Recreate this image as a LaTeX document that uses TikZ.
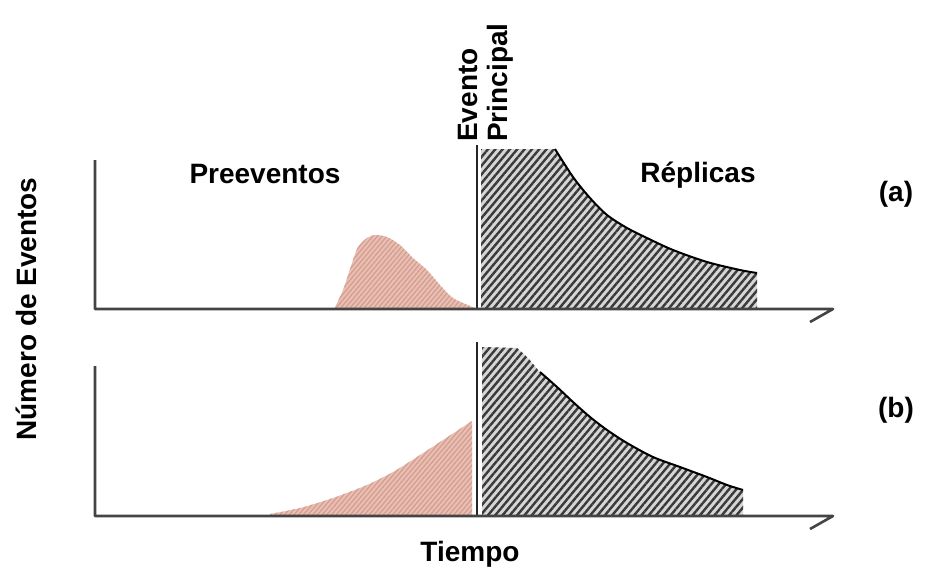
\documentclass[tikz,border=0pt]{standalone}
\usepackage{fontspec}
\setmainfont{Liberation Sans}
\usetikzlibrary{patterns.meta}

\definecolor{axisGray}{HTML}{444444}
\definecolor{shockBg}{HTML}{D6D6D6}
\definecolor{shockLine}{HTML}{3A3A3A}
\definecolor{foreFill}{HTML}{E9BFB4}
\definecolor{foreLine}{HTML}{D49C8E}

\begin{document}
\begin{tikzpicture}[x=1pt, y=-1pt,
	labelText/.style={font=\fontsize{28}{30}\selectfont\bfseries, inner sep=0pt},
	axisLine/.style={draw=axisGray, line width=2.6pt, line join=round},
	mainLine/.style={draw=black!85, line width=2.4pt},
	decayLine/.style={draw=black, line width=2pt},
	shockHatch/.style={preaction={fill=shockBg}, pattern={Lines[angle=50,distance=5.6pt,line width=2.4pt]}, pattern color=shockLine},
	foreHatch/.style={preaction={fill=foreFill}, pattern={Lines[angle=50,distance=3.6pt,line width=1.2pt]}, pattern color=foreLine}]
	\useasboundingbox (0,0) rectangle (925,574);

	\newcommand\drawAxes[2]{\draw[axisLine] (95,#1) -- (95,#2) -- (833,#2) -- (810,#2 + 13);}

	% (a)
	\begin{scope}
		\path[foreHatch] (335,309) -- plot[smooth] coordinates {(335,307) (343,290) (352,263) (358,247) (367,238) (375,235) (387,237) (400,245) (413,258) (427,270) (440,285) (453,298) (470,306) (474,308)} -- (474,309) -- cycle;
		\path[shockHatch] (481,309) -- (481,149) -- plot[smooth] coordinates {(555,149) (573,177) (590,198) (607,215) (627,228) (647,238) (673,250) (707,262) (740,270) (757,273)} -- (757,309) -- cycle;
		\draw[decayLine] plot[smooth] coordinates {(555,149) (573,177) (590,198) (607,215) (627,228) (647,238) (673,250) (707,262) (740,270) (757,273)};
		\draw[mainLine] (477,145) -- (477,309);
		\drawAxes{160}{309}
	\end{scope}

	% (b)
	\begin{scope}
		\path[foreHatch] (270,515) -- plot[smooth] coordinates {(270,514) (300,508) (333,498) (367,485) (393,472) (417,457) (443,440) (472,421)} -- (472,515) -- cycle;
		\path[shockHatch] (482,515) -- (482,347) -- plot[smooth] coordinates {(517,348) (528,358) (540,372) (557,387) (573,402) (590,417) (607,430) (627,443) (653,457) (680,467) (707,477) (727,485) (743,490)} -- (743,515) -- cycle;
		\draw[decayLine] plot[smooth] coordinates {(540,372) (557,387) (573,402) (590,417) (607,430) (627,443) (653,457) (680,467) (707,477) (727,485) (743,490)};
		\draw[mainLine] (477,342) -- (477,516);
		\drawAxes{366}{516}
	\end{scope}

	\node[labelText, anchor=base] (pre) at (265,183) {Preeventos};
	\node[labelText, anchor=base] (rep) at (698,182) {Réplicas};
	\node[labelText, rotate=90, anchor=base west] (evento) at (477,142) {Evento};
	\node[labelText, rotate=90, anchor=base west] (principal) at (507,142) {Principal};
	\node[labelText] (caseA) at (896,194) {(a)};
	\node[labelText] (caseB) at (896,410) {(b)};
	\node[labelText, rotate=90, anchor=base] (numEv) at (36,309) {Número de Eventos};
	\node[labelText, anchor=base] (tiempo) at (470,561) {Tiempo};
\end{tikzpicture}
\end{document}
